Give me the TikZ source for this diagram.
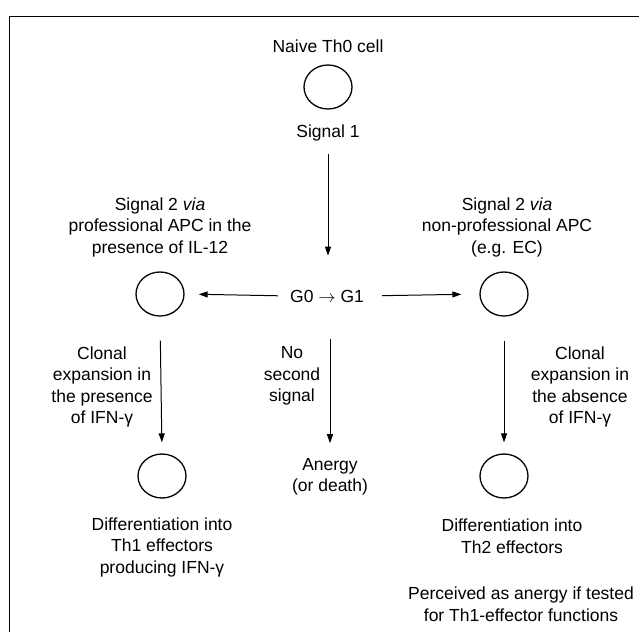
\documentclass[tikz,border=0pt]{standalone}
\usepackage{fontspec}
\setmainfont{Liberation Sans}
\usetikzlibrary{arrows.meta,shapes.geometric}
\begin{document}
\begin{tikzpicture}[x=1pt,y=-1pt,
  cell/.style={ellipse,draw,line width=1.3pt,minimum width=48pt,minimum height=44pt,inner sep=0pt},
  lbl/.style={align=center,font=\fontsize{17.5}{21.5}\selectfont,inner sep=0pt},
  arr/.style={line width=1pt,-{Triangle[length=9pt,width=6pt]}}]
\useasboundingbox (0,0) rectangle (639,632);
% frame (top and left edges only)
\coordinate (bl) at (9,632);
\coordinate (tl) at (9,16);
\coordinate (tr) at (639,16);
\draw[line width=1pt] (bl) -- (tl) -- (tr);
% top
\node[lbl] (naive) at (328,46) {Naive Th0 cell};
\node[cell] (c0) at (328,87) {};
\node[lbl] (s1) at (328,133) {Signal 1};
% middle row
\node[lbl] (g) at (327,296) {G0 $\rightarrow$ G1};
\node[cell] (cL) at (160,294) {};
\node[cell] (cR) at (504,294) {};
\node[lbl] (sig2L) at (160,227) {Signal 2 \textit{via}\\professional APC in the\\presence of IL-12};
\node[lbl] (sig2R) at (507,227) {Signal 2 \textit{via}\\non-professional APC\\(e.g. EC)};
% lower row
\node[lbl] (clL) at (102,387) {Clonal\\expansion in\\the presence\\of IFN-γ};
\node[lbl] (nosec) at (292,376) {No\\second\\signal};
\node[lbl] (clR) at (580,387) {Clonal\\expansion in\\the absence\\of IFN-γ};
\node[cell] (cL2) at (162,476) {};
\node[cell] (cR2) at (504,476) {};
\node[lbl] (anergy) at (330,477) {Anergy\\(or death)};
\node[lbl] (diffL) at (162,547) {Differentiation into\\Th1 effectors\\producing IFN-γ};
\node[lbl] (diffR) at (512,536) {Differentiation into\\Th2 effectors};
\node[lbl] (perc) at (521,604) {Perceived as anergy if tested\\for Th1-effector functions};
% arrows
\draw[arr,shorten <=13pt,shorten >=34pt] (s1) -- (s1 |- g.north);
\draw[arr,shorten <=12pt,shorten >=14pt] (g.west) -- (cL.east);
\draw[arr,shorten <=18pt,shorten >=18pt] (g.east) -- (cR.west);
\draw[arr,shorten <=24pt,shorten >=11pt] (cL.south) -- (cL2.north);
\draw[arr,shorten <=37pt,shorten >=15pt] (g.south -| anergy) -- (anergy.north);
\draw[arr,shorten <=24pt,shorten >=11pt] (cR.south) -- (cR2.north);
\end{tikzpicture}
\end{document}
